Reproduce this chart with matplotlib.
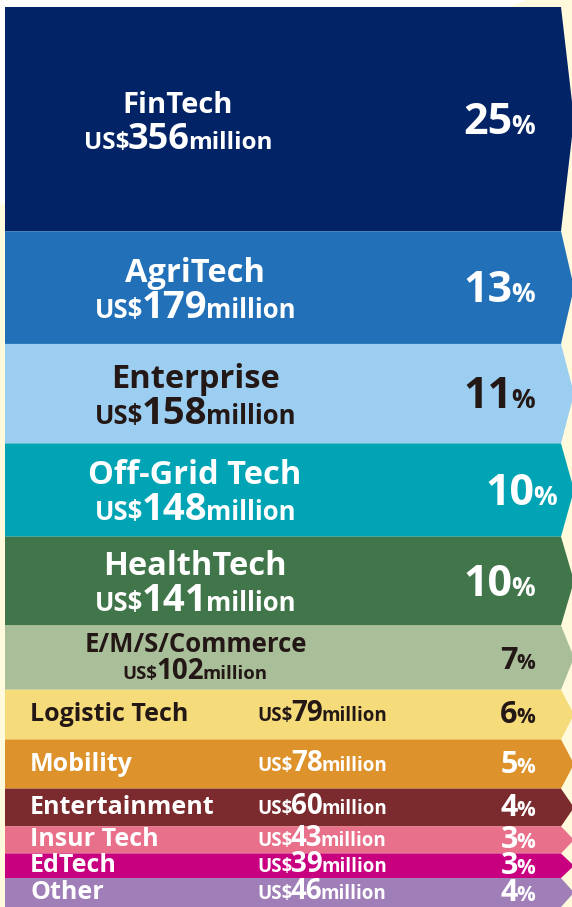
import matplotlib
matplotlib.use("Agg")
import matplotlib.pyplot as plt
from matplotlib.patches import Polygon

categories = ["FinTech", "AgriTech", "Enterprise", "Off-Grid Tech", "HealthTech",
              "E/M/S/Commerce", "Logistic Tech", "Mobility", "Entertainment",
              "Insur Tech", "EdTech", "Other"]
amounts = [356, 179, 158, 148, 141, 102, 79, 78, 60, 43, 39, 46]
shares = [25, 13, 11, 10, 10, 7, 6, 5, 4, 3, 3, 4]

colors = ["#022366", "#2170b8", "#9bcef1", "#00a4b4", "#41754a", "#a9bf9a",
          "#f5db7a", "#de922b", "#7b2a2d", "#e8708a", "#c8007f", "#a07fb8"]
dark = "#231815"
text_colors = ["white", "white", dark, "white", "white", dark,
               dark, "white", "white", "white", "white", "white"]

W, H = 572, 907
FONT = "Open Sans"

fig = plt.figure(figsize=(W / 100, H / 100), dpi=100)
fig.patch.set_facecolor("white")

# background sheet (light yellow behind the arrows)
bg = fig.add_axes([0, 0, 1, 1])
bg.set_xlim(0, W)
bg.set_ylim(H, 0)
bg.axis("off")
bg.add_patch(Polygon([(0, H), (0, 205), (527, 0), (W, 0), (W, H)],
                     closed=True, facecolor="#fffadc", edgecolor="none"))

total = sum(amounts)
ax = fig.add_axes([0, 0, 1, (H - 7) / H])
ax.set_xlim(0, W)
ax.set_ylim(total, 0)
ax.axis("off")
ax.patch.set_alpha(0)

x_left, x_corner, x_tip = 5, 561, 574

renderer = fig.canvas.get_renderer()


def text_run(x, y, dy, pieces, color, ha, gap=-1.5):
    """Draw pieces [(text, size)] on one baseline; dy = pixels below y (negative = above)."""
    objs = []
    for s, size in pieces:
        t = ax.annotate(s, xy=(x, y), xytext=(0, -dy), textcoords="offset pixels",
                        fontsize=size, fontweight="bold", family=FONT,
                        color=color, ha="left", va="baseline", annotation_clip=False)
        objs.append(t)
    widths = [t.get_window_extent(renderer).width for t in objs]
    tot = sum(widths) + gap * (len(objs) - 1)
    if ha == "center":
        start = x - tot / 2
    elif ha == "right":
        start = x - tot
    else:
        start = x
    for t, w in zip(objs, widths):
        t.xy = (start, y)
        start += w + gap


top = 0
for i, (cat, amt, sh) in enumerate(zip(categories, amounts, shares)):
    bot = top + amt
    mid = (top + bot) / 2
    ax.add_patch(Polygon([(x_left, top), (x_corner, top), (x_tip, mid),
                          (x_corner, bot), (x_left, bot)],
                         closed=True, facecolor=colors[i], edgecolor="none",
                         clip_on=False))
    c = text_colors[i]
    if i < 5:
        if i == 0:
            cx, name_sz, us_sz, num_sz = 178, 21, 17.5, 26
        else:
            cx, name_sz, us_sz, num_sz = 195, 23.5, 18.5, 27.5
        px = 557 if cat == "Off-Grid Tech" else 535
        text_run(cx, mid, -6, [(cat, name_sz)], c, "center")
        text_run(cx, mid, 30, [("US$", us_sz), (str(amt), num_sz), ("million", us_sz)], c, "center")
        text_run(px, mid, 14.5, [(str(sh), 31), ("%", 19)], c, "right")
    elif i == 5:
        text_run(196, mid, -5.5, [(cat, 18.5)], c, "center")
        text_run(195, mid, 21.5, [("US$", 13.3), (str(amt), 20), ("million", 13.3)], c, "center")
        text_run(535, mid, 11.5, [(str(sh), 22), ("%", 15)], c, "right")
    else:
        text_run(30, mid, 6.5, [(cat, 18)], c, "left")
        text_run(257, mid, 6.5, [("US$", 13.5), (str(amt), 20), ("million", 13.5)], c, "left")
        text_run(535, mid, 8.5, [(str(sh), 22), ("%", 15)], c, "right")
    top = bot

fig.savefig("out.png", dpi=100)
